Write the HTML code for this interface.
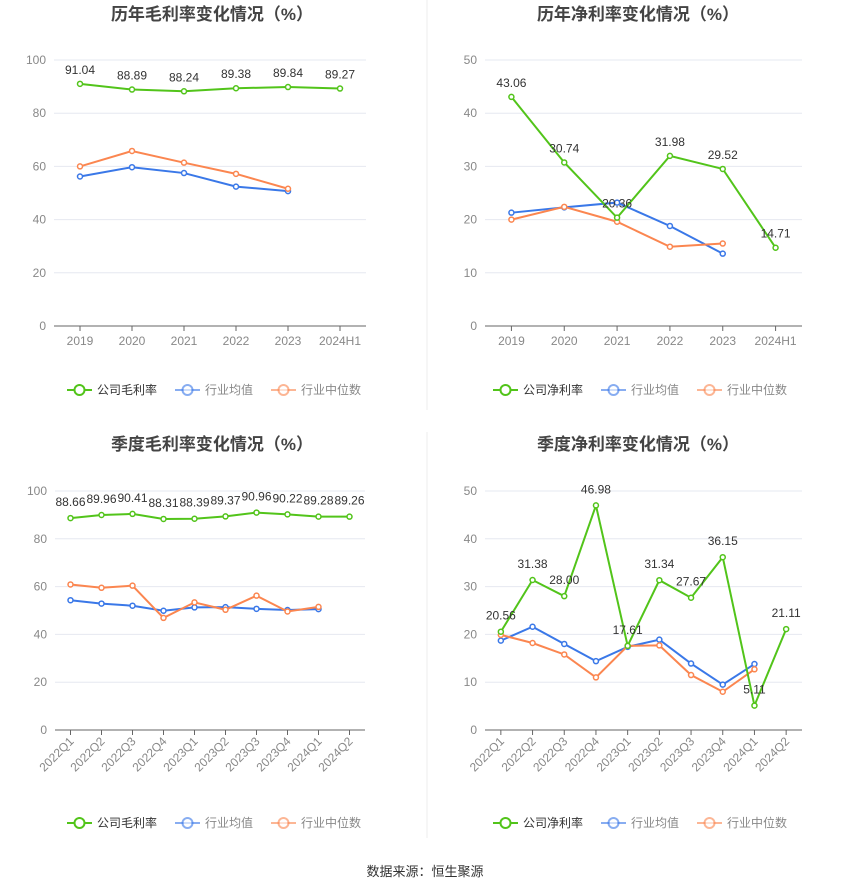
<!DOCTYPE html>
<html><head><meta charset="utf-8"><style>
body{margin:0;background:#fff;width:850px;height:891px;overflow:hidden;font-family:"Liberation Sans","Noto Sans CJK SC",sans-serif}
svg{position:absolute;left:0;top:0}
</style></head><body>
<svg id="s" width="850" height="891" xmlns="http://www.w3.org/2000/svg">
<line x1="427" y1="0" x2="427" y2="410" stroke="#eee"/>
<line x1="427" y1="432" x2="427" y2="838" stroke="#eee"/>
<text x="425" y="876" text-anchor="middle" font-size="13" fill="#333">数据来源：恒生聚源</text>
</svg>
<script>
const yearCats=["2019","2020","2021","2022","2023","2024H1"];
const qCats=["2022Q1","2022Q2","2022Q3","2022Q4","2023Q1","2023Q2","2023Q3","2023Q4","2024Q1","2024Q2"];
const c1Company=[91.04,88.89,88.24,89.38,89.84,89.27];
const c1Avg=[56.2,59.7,57.5,52.4,50.7];
const c1Med=[60.0,65.8,61.4,57.2,51.6];
const c2Company=[43.06,30.74,20.36,31.98,29.52,14.71];
const c2Avg=[21.3,22.3,23.2,18.8,13.6];
const c2Med=[20.0,22.4,19.6,14.9,15.5];
const c3Company=[88.66,89.96,90.41,88.31,88.39,89.37,90.96,90.22,89.28,89.26];
const c3Avg=[54.3,52.9,52.0,49.9,51.3,51.4,50.7,50.2,50.6];
const c3Med=[60.9,59.5,60.4,46.9,53.4,50.3,56.2,49.6,51.5];
const c4Company=[20.56,31.38,28.00,46.98,17.61,31.34,27.67,36.15,5.11,21.11];
const c4Avg=[18.7,21.6,18.0,14.4,17.4,18.9,13.9,9.5,13.8];
const c4Med=[19.9,18.2,15.8,11.0,17.6,17.7,11.5,8.0,12.7];
const ticks1=[0,20,40,60,80,100], ticks2=[0,10,20,30,40,50];

const NS="http://www.w3.org/2000/svg", svg=document.getElementById('s');
function el(t,a,p){const e=document.createElementNS(NS,t);for(const k in a)e.setAttribute(k,a[k]);(p||svg).appendChild(e);return e;}
const G="#52c41a",B="#3a78e8",O="#fb8650";
function chart(o){
  const g=el('g',{});
  
  
  const t=el('text',{x:o.cx,y:o.ty,'text-anchor':'middle','font-size':17,'font-weight':'bold',fill:'#444'},g);
  t.textContent=o.title;
  
  
  const ymax=o.ticks[o.ticks.length-1];
  const Y=v=>o.y0-(v/ymax)*(o.y0-o.y1);
  const step=(o.x1-o.x0)/o.cats.length;
  const X=i=>o.x0+step*(i+0.5);
  o.ticks.forEach(v=>{
    if(v>0){const l=el('line',{x1:o.x0,x2:o.x1,y1:Y(v),y2:Y(v),stroke:'#e6e8f0'},g);
      
      }
    const tx=el('text',{x:o.x0-8,y:Y(v)+4,'text-anchor':'end','font-size':12,fill:'#888'},g);
    tx.textContent=v;
    
    
  });
  const ax=el('line',{x1:o.x0,x2:o.x1,y1:o.y0,y2:o.y0,stroke:'#666'},g);
  
  
  o.cats.forEach((c,i)=>{
    el('line',{x1:X(i),x2:X(i),y1:o.y0,y2:o.y0+5,stroke:'#666'},g);
    let tx;
    if(o.rot){tx=el('text',{x:X(i)+4,y:o.y0+12,'text-anchor':'end','font-size':12,fill:'#888',transform:`rotate(-45 ${X(i)+4} ${o.y0+12})`},g);}
    else tx=el('text',{x:X(i),y:o.y0+19,'text-anchor':'middle','font-size':12,fill:'#888'},g);
    tx.textContent=c;
    
    
  });
  [[o.avg,B,'industry-average-line'],[o.med,O,'industry-median-line'],[o.comp,G,'company-line']].forEach(([d,col,nm])=>{
    const pl=el('polyline',{points:d.map((v,i)=>X(i)+','+Y(v)).join(' '),fill:'none',stroke:col,'stroke-width':2},g);
    
    
    d.forEach((v,i)=>{const c=el('circle',{cx:X(i),cy:Y(v),r:2.5,fill:'#fff',stroke:col,'stroke-width':1.5},g);
      
      });
  });
  o.comp.forEach((v,i)=>{
    const tx=el('text',{x:X(i),y:Y(v)-(o.lblOff||10),'text-anchor':'middle','font-size':12,fill:'#333'},g);
    tx.textContent=v.toFixed(2);
    
    
  });
  const items=[[o.leg,G],['行业均值',B],['行业中位数',O]];
  let lx=o.cx-145;
  items.forEach(([n,col],k)=>{
    const lg=el('g',{},g);
    
    
    const op=k?0.6:1;
    el('line',{x1:lx,x2:lx+25,y1:o.ly,y2:o.ly,stroke:col,'stroke-width':2,opacity:op},lg);
    el('circle',{cx:lx+12.5,cy:o.ly,r:5,fill:'#fff',stroke:col,'stroke-width':2,opacity:op},lg);
    const tx=el('text',{x:lx+30,y:o.ly+4,'font-size':12,fill:k?'#888':'#333'},lg);
    tx.textContent=n;
    lx+=30+n.length*12+18;
  });
}
chart({name:'annual-gross-margin-chart',title:'历年毛利率变化情况（%）',cx:212,ty:20,x0:54,x1:366,y0:326,y1:60,ticks:ticks1,cats:yearCats,comp:c1Company,avg:c1Avg,med:c1Med,leg:'公司毛利率',ly:390});
chart({name:'annual-net-margin-chart',title:'历年净利率变化情况（%）',cx:638,ty:20,x0:485,x1:802,y0:326,y1:60,ticks:ticks2,cats:yearCats,comp:c2Company,avg:c2Avg,med:c2Med,leg:'公司净利率',ly:390});
chart({name:'quarterly-gross-margin-chart',title:'季度毛利率变化情况（%）',cx:212,ty:450,x0:55,x1:365,y0:730,y1:491,ticks:ticks1,cats:qCats,comp:c3Company,avg:c3Avg,med:c3Med,leg:'公司毛利率',ly:823,rot:true,lblOff:12});
chart({name:'quarterly-net-margin-chart',title:'季度净利率变化情况（%）',cx:638,ty:450,x0:485,x1:802,y0:730,y1:491,ticks:ticks2,cats:qCats,comp:c4Company,avg:c4Avg,med:c4Med,leg:'公司净利率',ly:823,rot:true,lblOff:12});
</script>
</body></html>
